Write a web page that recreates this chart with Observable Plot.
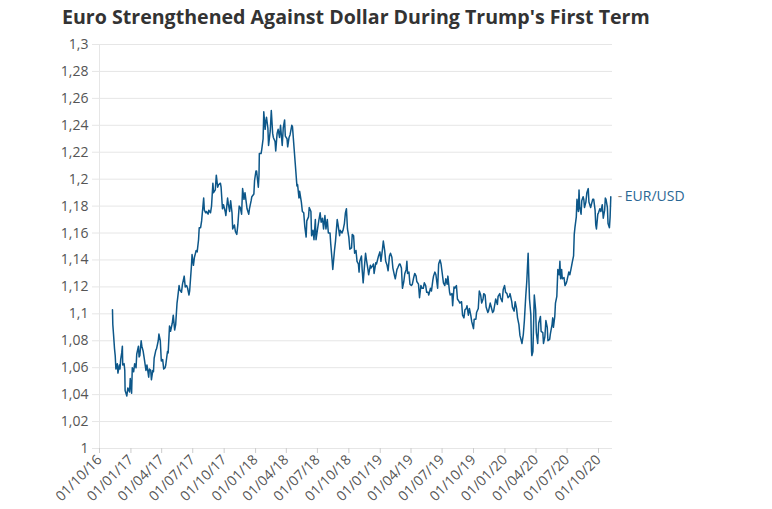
<!DOCTYPE html>
<html><head><meta charset="utf-8">
<script src="https://cdn.jsdelivr.net/npm/d3@7"></script>
<script src="https://cdn.jsdelivr.net/npm/@observablehq/plot@0.6"></script>
<style>
html,body{margin:0;padding:0;background:#fff;}
body{width:772px;height:509px;position:relative;overflow:hidden;font-family:"Open Sans",sans-serif;}
#title{position:absolute;left:62px;top:3px;font-size:19.6px;line-height:27px;font-weight:700;color:#333;white-space:nowrap;}
#chart{position:absolute;left:0;top:34px;}
</style></head><body>
<div id="title">Euro Strengthened Against Dollar During Trump's First Term</div>
<div id="chart"></div>
<script>
const seriesName = "EUR/USD";
const yTicks = [1, 1.02, 1.04, 1.06, 1.08, 1.1, 1.12, 1.14, 1.16, 1.18, 1.2, 1.22, 1.24, 1.26, 1.28, 1.3];
const xTickDates = ["2016-10-01","2017-01-01","2017-04-01","2017-07-01","2017-10-01","2018-01-01","2018-04-01","2018-07-01","2018-10-01","2019-01-01","2019-04-01","2019-07-01","2019-10-01","2020-01-01","2020-04-01","2020-07-01","2020-10-01"];
const xDomain = ["2016-10-01", "2020-11-11"];
const eurusd = [
["2016-11-08",1.103],["2016-11-09",1.092],["2016-11-11",1.085],["2016-11-14",1.074],["2016-11-16",1.069],["2016-11-18",1.059],["2016-11-22",1.063],["2016-11-24",1.056],["2016-11-28",1.062],["2016-11-30",1.059],
["2016-12-02",1.066],["2016-12-05",1.071],["2016-12-07",1.076],["2016-12-08",1.062],["2016-12-12",1.063],["2016-12-14",1.058],["2016-12-15",1.043],["2016-12-20",1.039],["2016-12-23",1.045],["2016-12-28",1.042],["2016-12-30",1.052],
["2017-01-03",1.041],["2017-01-05",1.060],["2017-01-09",1.057],["2017-01-12",1.063],["2017-01-16",1.060],["2017-01-18",1.070],["2017-01-23",1.076],["2017-01-25",1.068],["2017-01-27",1.069],["2017-01-31",1.080],
["2017-02-02",1.076],["2017-02-06",1.072],["2017-02-09",1.067],["2017-02-14",1.058],["2017-02-17",1.062],["2017-02-22",1.053],["2017-02-24",1.059],["2017-02-28",1.058],
["2017-03-02",1.051],["2017-03-06",1.058],["2017-03-08",1.057],["2017-03-10",1.067],["2017-03-15",1.073],["2017-03-17",1.074],["2017-03-22",1.080],["2017-03-24",1.085],["2017-03-28",1.080],["2017-03-31",1.065],
["2017-04-04",1.066],["2017-04-07",1.059],["2017-04-11",1.060],["2017-04-13",1.062],["2017-04-18",1.072],["2017-04-20",1.071],["2017-04-24",1.091],["2017-04-27",1.087],
["2017-05-02",1.093],["2017-05-05",1.099],["2017-05-09",1.088],["2017-05-12",1.092],["2017-05-16",1.108],["2017-05-18",1.112],["2017-05-22",1.121],["2017-05-24",1.118],["2017-05-29",1.116],
["2017-06-01",1.122],["2017-06-06",1.128],["2017-06-09",1.120],["2017-06-13",1.121],["2017-06-16",1.119],["2017-06-20",1.114],["2017-06-22",1.117],["2017-06-27",1.135],["2017-06-29",1.144],
["2017-07-03",1.136],["2017-07-06",1.142],["2017-07-11",1.147],["2017-07-14",1.146],["2017-07-18",1.155],["2017-07-20",1.164],["2017-07-24",1.164],["2017-07-27",1.169],
["2017-08-02",1.186],["2017-08-04",1.177],["2017-08-08",1.175],["2017-08-10",1.176],["2017-08-15",1.174],["2017-08-17",1.177],["2017-08-22",1.175],["2017-08-25",1.180],["2017-08-29",1.197],["2017-08-31",1.190],
["2017-09-05",1.192],["2017-09-08",1.203],["2017-09-12",1.194],["2017-09-15",1.196],["2017-09-20",1.197],["2017-09-22",1.194],["2017-09-26",1.178],["2017-09-29",1.181],
["2017-10-04",1.176],["2017-10-06",1.173],["2017-10-11",1.186],["2017-10-13",1.182],["2017-10-17",1.176],["2017-10-20",1.184],["2017-10-24",1.175],["2017-10-26",1.163],["2017-10-31",1.166],
["2017-11-03",1.161],["2017-11-07",1.159],["2017-11-10",1.166],["2017-11-14",1.180],["2017-11-17",1.179],["2017-11-21",1.174],["2017-11-24",1.193],["2017-11-28",1.185],
["2017-12-01",1.190],["2017-12-05",1.182],["2017-12-07",1.178],["2017-12-12",1.174],["2017-12-14",1.178],["2017-12-19",1.184],["2017-12-21",1.187],["2017-12-27",1.189],["2017-12-29",1.199],
["2018-01-02",1.206],["2018-01-04",1.206],["2018-01-09",1.194],["2018-01-11",1.203],["2018-01-12",1.219],["2018-01-17",1.219],["2018-01-19",1.222],["2018-01-23",1.230],["2018-01-25",1.250],["2018-01-29",1.237],["2018-01-31",1.243],
["2018-02-02",1.246],["2018-02-06",1.238],["2018-02-08",1.225],["2018-02-13",1.236],["2018-02-16",1.251],["2018-02-20",1.234],["2018-02-22",1.231],["2018-02-27",1.228],
["2018-03-01",1.221],["2018-03-05",1.234],["2018-03-08",1.237],["2018-03-12",1.231],["2018-03-15",1.240],["2018-03-20",1.225],["2018-03-23",1.238],["2018-03-27",1.244],["2018-03-29",1.232],
["2018-04-03",1.230],["2018-04-05",1.224],["2018-04-09",1.231],["2018-04-12",1.233],["2018-04-17",1.240],["2018-04-19",1.239],["2018-04-24",1.222],["2018-04-27",1.212],
["2018-05-02",1.195],["2018-05-04",1.196],["2018-05-08",1.186],["2018-05-10",1.191],["2018-05-15",1.183],["2018-05-18",1.176],["2018-05-22",1.175],["2018-05-25",1.165],["2018-05-29",1.157],["2018-05-31",1.169],
["2018-06-05",1.172],["2018-06-07",1.179],["2018-06-12",1.176],["2018-06-14",1.158],["2018-06-18",1.162],["2018-06-21",1.155],["2018-06-25",1.170],["2018-06-27",1.155],
["2018-07-02",1.164],["2018-07-05",1.169],["2018-07-09",1.175],["2018-07-12",1.168],["2018-07-16",1.171],["2018-07-19",1.163],["2018-07-23",1.173],["2018-07-26",1.163],["2018-07-30",1.170],
["2018-08-02",1.160],["2018-08-07",1.160],["2018-08-09",1.152],["2018-08-13",1.140],["2018-08-15",1.133],["2018-08-20",1.147],["2018-08-23",1.154],["2018-08-28",1.170],["2018-08-30",1.167],
["2018-09-04",1.158],["2018-09-06",1.162],["2018-09-11",1.160],["2018-09-14",1.162],["2018-09-18",1.167],["2018-09-21",1.175],["2018-09-24",1.178],["2018-09-27",1.163],
["2018-10-01",1.157],["2018-10-04",1.148],["2018-10-09",1.149],["2018-10-11",1.159],["2018-10-15",1.158],["2018-10-18",1.145],["2018-10-22",1.147],["2018-10-25",1.139],["2018-10-29",1.137],["2018-10-31",1.131],
["2018-11-02",1.139],["2018-11-07",1.143],["2018-11-09",1.133],["2018-11-12",1.123],["2018-11-15",1.133],["2018-11-19",1.145],["2018-11-21",1.141],["2018-11-26",1.133],["2018-11-28",1.129],
["2018-12-03",1.136],["2018-12-05",1.134],["2018-12-10",1.136],["2018-12-12",1.137],["2018-12-14",1.130],["2018-12-19",1.138],["2018-12-21",1.137],["2018-12-27",1.143],["2018-12-31",1.146],
["2019-01-03",1.139],["2019-01-07",1.147],["2019-01-10",1.154],["2019-01-14",1.147],["2019-01-17",1.139],["2019-01-21",1.136],["2019-01-24",1.132],["2019-01-28",1.143],["2019-01-31",1.145],
["2019-02-04",1.142],["2019-02-07",1.134],["2019-02-12",1.128],["2019-02-14",1.126],["2019-02-19",1.133],["2019-02-21",1.134],["2019-02-26",1.137],["2019-02-28",1.137],
["2019-03-04",1.134],["2019-03-07",1.119],["2019-03-11",1.124],["2019-03-14",1.130],["2019-03-18",1.133],["2019-03-20",1.139],["2019-03-22",1.130],["2019-03-26",1.131],["2019-03-29",1.122],
["2019-04-02",1.121],["2019-04-05",1.122],["2019-04-09",1.127],["2019-04-12",1.130],["2019-04-16",1.128],["2019-04-18",1.124],["2019-04-23",1.122],["2019-04-26",1.112],["2019-04-30",1.121],
["2019-05-03",1.119],["2019-05-07",1.119],["2019-05-10",1.123],["2019-05-14",1.121],["2019-05-17",1.116],["2019-05-21",1.116],["2019-05-23",1.114],["2019-05-28",1.119],["2019-05-31",1.117],
["2019-06-04",1.125],["2019-06-06",1.128],["2019-06-10",1.131],["2019-06-13",1.129],["2019-06-18",1.119],["2019-06-21",1.137],["2019-06-25",1.140],["2019-06-28",1.137],
["2019-07-02",1.129],["2019-07-05",1.123],["2019-07-09",1.121],["2019-07-12",1.126],["2019-07-16",1.122],["2019-07-18",1.128],["2019-07-23",1.116],["2019-07-25",1.114],["2019-07-30",1.115],
["2019-08-01",1.106],["2019-08-05",1.120],["2019-08-07",1.119],["2019-08-12",1.121],["2019-08-15",1.111],["2019-08-20",1.109],["2019-08-22",1.108],["2019-08-27",1.109],["2019-08-30",1.099],
["2019-09-03",1.097],["2019-09-06",1.103],["2019-09-10",1.104],["2019-09-12",1.106],["2019-09-16",1.099],["2019-09-19",1.104],["2019-09-23",1.099],["2019-09-26",1.094],
["2019-10-01",1.089],["2019-10-03",1.096],["2019-10-08",1.096],["2019-10-10",1.101],["2019-10-15",1.104],["2019-10-18",1.117],["2019-10-22",1.114],["2019-10-25",1.108],["2019-10-29",1.111],["2019-10-31",1.115],
["2019-11-04",1.114],["2019-11-07",1.105],["2019-11-12",1.101],["2019-11-14",1.102],["2019-11-19",1.108],["2019-11-21",1.106],["2019-11-26",1.101],["2019-11-29",1.102],
["2019-12-03",1.108],["2019-12-05",1.111],["2019-12-10",1.107],["2019-12-12",1.113],["2019-12-17",1.115],["2019-12-19",1.112],["2019-12-24",1.109],["2019-12-27",1.118],["2019-12-31",1.121],
["2020-01-03",1.116],["2020-01-07",1.115],["2020-01-10",1.112],["2020-01-14",1.113],["2020-01-16",1.115],["2020-01-21",1.109],["2020-01-23",1.105],["2020-01-28",1.102],["2020-01-31",1.109],
["2020-02-04",1.104],["2020-02-07",1.097],["2020-02-11",1.092],["2020-02-14",1.084],["2020-02-18",1.080],["2020-02-20",1.078],["2020-02-24",1.085],["2020-02-27",1.095],
["2020-03-02",1.113],["2020-03-05",1.124],["2020-03-09",1.145],["2020-03-11",1.127],["2020-03-13",1.111],["2020-03-17",1.099],["2020-03-19",1.072],["2020-03-20",1.069],["2020-03-23",1.072],["2020-03-26",1.103],["2020-03-27",1.114],["2020-03-31",1.103],
["2020-04-02",1.086],["2020-04-06",1.078],["2020-04-09",1.093],["2020-04-14",1.098],["2020-04-16",1.087],["2020-04-21",1.086],["2020-04-23",1.078],["2020-04-27",1.083],["2020-04-30",1.095],
["2020-05-04",1.090],["2020-05-06",1.080],["2020-05-11",1.081],["2020-05-13",1.085],["2020-05-18",1.092],["2020-05-20",1.097],["2020-05-22",1.090],["2020-05-26",1.098],["2020-05-28",1.108],
["2020-06-01",1.113],["2020-06-04",1.133],["2020-06-08",1.129],["2020-06-10",1.139],["2020-06-12",1.126],["2020-06-15",1.133],["2020-06-17",1.126],["2020-06-22",1.127],["2020-06-25",1.121],["2020-06-29",1.123],
["2020-07-01",1.125],["2020-07-06",1.131],["2020-07-09",1.129],["2020-07-13",1.134],["2020-07-16",1.138],["2020-07-20",1.143],["2020-07-22",1.159],["2020-07-24",1.164],["2020-07-28",1.172],["2020-07-30",1.185],
["2020-08-03",1.176],["2020-08-05",1.192],["2020-08-07",1.179],["2020-08-11",1.174],["2020-08-13",1.184],["2020-08-17",1.187],["2020-08-19",1.185],["2020-08-21",1.179],["2020-08-25",1.183],["2020-08-28",1.190],
["2020-09-01",1.193],["2020-09-03",1.183],["2020-09-08",1.179],["2020-09-10",1.181],["2020-09-14",1.185],["2020-09-17",1.185],["2020-09-21",1.177],["2020-09-23",1.166],["2020-09-25",1.163],["2020-09-29",1.174],
["2020-10-01",1.175],["2020-10-05",1.178],["2020-10-08",1.176],["2020-10-12",1.181],["2020-10-15",1.171],["2020-10-19",1.177],["2020-10-21",1.186],["2020-10-23",1.185],["2020-10-27",1.179],["2020-10-29",1.167],
["2020-11-02",1.164],["2020-11-04",1.172],["2020-11-06",1.187]
];

const rows = eurusd.map(([d, v]) => ({date: new Date(d + "T00:00:00Z"), value: v}));
const last = rows[rows.length - 1];
const fmtY = d => d.toFixed(2).replace(/0+$/, "").replace(/\.$/, "").replace(".", ",");
const fmtX = d3.utcFormat("%d/%m/%y");
const lineColor = "#0d5789";
const gridColor = "#e6e6e6";

const chart = Plot.plot({
  width: 772,
  height: 475,
  marginTop: 10,
  marginBottom: 61,
  marginLeft: 99,
  marginRight: 160,
  style: {fontFamily: "'Open Sans', sans-serif", fontSize: "14px", color: "#555", background: "#fff", overflow: "visible"},
  x: {type: "utc", domain: xDomain.map(d => new Date(d + "T00:00:00Z")), label: null},
  y: {domain: [1, 1.3], label: null},
  marks: [
    Plot.gridY(yTicks, {stroke: gridColor, strokeOpacity: 1}),
    Plot.axisY(yTicks, {tickFormat: fmtY, tickSize: 7, tickPadding: 4, stroke: gridColor, strokeOpacity: 1, fill: "#555", label: null}),
    Plot.frame({anchor: "left", stroke: gridColor}),
    Plot.axisX(xTickDates.map(d => new Date(d + "T00:00:00Z")), {tickFormat: fmtX, tickRotate: -45, tickSize: 5, tickPadding: 4, stroke: "#ccc", fill: "#555", label: null}),
    Plot.line(rows, {x: "date", y: "value", stroke: lineColor, strokeWidth: 1.5}),
    Plot.text([last], {x: "date", y: "value", text: () => "-", dx: 7, textAnchor: "start", fill: "#888"}),
    Plot.text([last], {x: "date", y: "value", text: () => seriesName, dx: 14, textAnchor: "start", fill: "#2a6794"})
  ]
});
document.getElementById("chart").appendChild(chart);
</script>
</body></html>
